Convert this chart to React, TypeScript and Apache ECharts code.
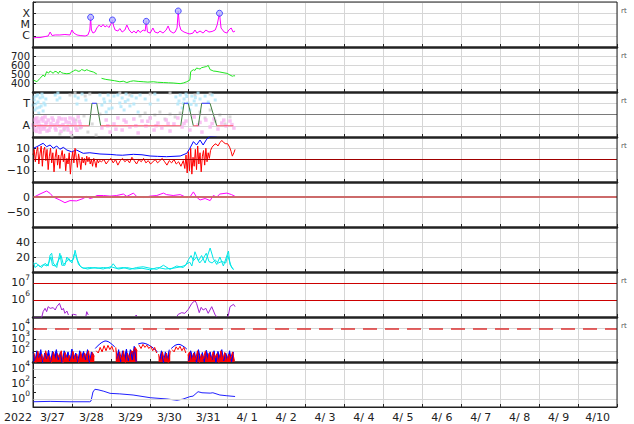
import React, { useEffect, useRef } from 'react';
import * as echarts from 'echarts';

const W = 634;
const H = 424;
const FONT = 'DejaVu Sans';
const GRID_C = '#d6d6d6';
const INK = '#222';

// ---- axis texts ----
const dayLabels = ['3/27', '3/28', '3/29', '3/30', '3/31', '4/ 1', '4/ 2', '4/ 3', '4/ 4', '4/ 5', '4/ 6', '4/ 7', '4/ 8', '4/ 9', '4/10'];
const yearLabel = '2022';
const xrayClasses: [string, number][] = [['C', -6], ['M', -5], ['X', -4]];
const sectorLabels: [string, number][] = [['T', 3], ['A', 1]];
const rtPanels = [0, 1, 2, 3, 6, 7];

// ---- data (time in days from 2022-03-27 00:00) ----
// Panel 1: X-ray flux, log10(W/m2)
const xray: [number, number][] = [
  [0.00, -6.20], [0.08, -6.16], [0.18, -6.16], [0.31, -6.07], [0.39, -6.02], [0.44, -5.67], [0.49, -5.98], [0.57, -5.93],
  [0.69, -5.93], [0.82, -5.89], [0.95, -5.93], [1.00, -5.49], [1.05, -5.76], [1.13, -5.93], [1.21, -5.98], [1.34, -6.02],
  [1.41, -5.93], [1.46, -5.49], [1.48, -4.36], [1.50, -5.49], [1.54, -5.76], [1.59, -5.67], [1.64, -5.31], [1.70, -5.04],
  [1.75, -5.22], [1.80, -5.00], [1.85, -5.22], [1.90, -5.09], [1.95, -5.27], [2.00, -4.96], [2.04, -4.60], [2.07, -5.13],
  [2.11, -5.49], [2.18, -5.58], [2.23, -5.36], [2.29, -5.67], [2.36, -5.49], [2.41, -5.04], [2.47, -5.49], [2.54, -5.76],
  [2.59, -5.58], [2.65, -5.76], [2.70, -5.49], [2.75, -5.71], [2.83, -5.49], [2.88, -5.58], [2.91, -4.72], [2.94, -5.67],
  [3.01, -5.76], [3.08, -5.31], [3.13, -5.67], [3.21, -5.76], [3.26, -5.58], [3.34, -5.76], [3.42, -5.49], [3.47, -5.13],
  [3.52, -5.58], [3.60, -5.76], [3.65, -5.67], [3.70, -5.31], [3.73, -3.80], [3.76, -5.04], [3.80, -5.49], [3.88, -5.67],
  [3.98, -5.80], [4.03, -5.84], [4.11, -5.76], [4.16, -5.49], [4.21, -5.76], [4.29, -5.58], [4.37, -5.76], [4.44, -5.49],
  [4.52, -5.67], [4.60, -5.62], [4.68, -5.49], [4.73, -5.04], [4.79, -4.00], [4.83, -5.31], [4.91, -5.67], [4.98, -5.76],
  [5.03, -5.49], [5.09, -5.31], [5.14, -5.67], [5.19, -5.58],
];
const flares: [number, number][] = [[1.48, -4.36], [2.04, -4.60], [2.91, -4.72], [3.73, -3.80], [4.79, -4.00]];

// Panel 2: solar wind speed, km/s
const speed: [number, number | string][] = [
  [0.01, 433], [0.10, 414], [0.18, 452], [0.26, 489], [0.30, 470], [0.35, 526], [0.40, 510], [0.44, 533], [0.48, 520],
  [0.52, 508], [0.56, 530], [0.61, 525], [0.65, 505], [0.69, 533], [0.73, 515], [0.78, 508], [0.87, 503], [0.95, 508],
  [1.00, 525], [1.04, 533], [1.08, 545], [1.12, 540], [1.16, 530], [1.21, 533], [1.25, 550], [1.29, 543], [1.33, 535],
  [1.38, 548], [1.42, 540], [1.46, 533], [1.55, 522], [1.64, 500], [1.70, '-'], [1.76, 452], [1.87, 440], [1.98, 433],
  [2.10, 425], [2.23, 414], [2.32, 420], [2.41, 405], [2.50, 418], [2.58, 424], [2.70, 418], [2.83, 414], [2.95, 410],
  [3.09, 414], [3.20, 408], [3.35, 405], [3.48, 402], [3.60, 400], [3.70, 396], [3.78, 393], [3.86, 400], [3.95, 414],
  [4.03, 433], [4.05, 526], [4.12, 548], [4.16, 540], [4.20, 566], [4.25, 560], [4.29, 555], [4.33, 570], [4.37, 574],
  [4.42, 580], [4.46, 583], [4.50, 596], [4.55, 548], [4.60, 540], [4.63, 533], [4.70, 530], [4.80, 522], [4.88, 515],
  [4.98, 507], [5.06, 489], [5.12, 475], [5.15, 480], [5.19, 480],
];

// Panel 3: IMF sector (T = toward, A = away)
const sectorT: [number, number][] = [
  [0.00, 2.84], [0.03, 3.29], [0.05, 2.40], [0.08, 3.64], [0.10, 2.58], [0.13, 3.11], [0.15, 2.13], [0.18, 3.47],
  [0.21, 2.76], [0.23, 3.82], [0.26, 2.31], [0.28, 3.02], [0.33, 3.38], [0.57, 3.73], [0.62, 3.29], [0.64, 3.91],
  [0.69, 3.47], [1.08, 3.64], [1.13, 2.93], [1.16, 3.47], [1.26, 3.82], [1.36, 3.29], [1.72, 3.73], [1.77, 2.84],
  [1.82, 3.38], [1.88, 2.22], [1.93, 3.73], [1.98, 3.20], [2.03, 2.58], [2.08, 3.64], [2.18, 3.73], [2.23, 3.02],
  [2.29, 3.47], [2.34, 2.40], [2.39, 3.82], [2.44, 3.29], [2.49, 2.76], [2.54, 3.64], [2.59, 2.93], [2.65, 3.47],
  [2.70, 2.22], [2.75, 3.73], [2.88, 3.38], [3.01, 2.93], [3.13, 3.82], [3.21, 3.29], [3.67, 3.56], [3.72, 2.93],
  [3.78, 3.73], [3.83, 2.58], [3.88, 3.38], [3.93, 3.82], [3.98, 3.02], [4.03, 2.40], [4.08, 3.64], [4.14, 3.20],
  [4.19, 2.84], [4.24, 3.91], [4.29, 3.38], [4.42, 3.64], [4.50, 3.11], [4.60, 3.73], [4.68, 3.29],
  [0.02, 3.55], [0.07, 2.95], [0.12, 3.75], [0.17, 2.65], [0.25, 3.55], [0.31, 2.85], [1.84, 3.10], [1.95, 2.50],
  [2.26, 2.70], [2.37, 3.15], [3.75, 3.20], [3.86, 3.00], [3.95, 3.60], [4.06, 2.90], [4.17, 3.50],
];
const sectorA: [number, number][] = [
  [0.00, 1.07], [0.03, 1.51], [0.05, 0.62], [0.08, 1.24], [0.10, 1.69], [0.13, 0.80], [0.15, 1.33], [0.18, 0.44],
  [0.21, 1.60], [0.23, 0.98], [0.26, 1.42], [0.28, 0.71], [0.31, 1.78], [0.33, 1.16], [0.36, 0.53], [0.39, 1.51],
  [0.44, 0.89], [0.49, 1.69], [0.54, 1.07], [0.59, 0.62], [0.64, 1.42], [0.69, 0.98], [0.74, 1.60], [0.80, 0.80],
  [0.85, 1.33], [0.90, 0.62], [0.95, 1.69], [1.00, 1.07], [1.05, 1.42], [1.10, 0.80], [1.16, 1.78], [1.21, 1.16],
  [1.77, 0.80], [1.88, 1.51], [1.98, 0.44], [2.08, 1.16], [2.18, 1.69], [2.29, 0.62], [2.39, 1.33], [2.49, 0.89],
  [2.59, 1.60], [2.70, 0.36], [2.80, 1.42], [2.90, 0.98], [3.01, 1.69], [3.11, 0.62], [3.21, 1.24], [3.31, 0.80],
  [3.42, 1.51], [3.52, 0.53], [3.62, 1.16], [3.72, 1.69], [3.83, 0.89], [3.93, 1.42], [4.03, 0.62], [4.14, 1.78],
  [4.24, 1.07], [4.34, 0.44], [4.44, 1.51], [4.55, 0.89], [4.65, 1.60], [4.75, 0.71], [4.85, 1.24], [4.96, 0.98],
  [5.06, 1.42], [5.16, 0.80],
  [0.02, 0.90], [0.06, 1.60], [0.09, 0.50], [0.12, 1.40], [0.16, 1.00], [0.20, 0.70], [0.25, 1.70], [0.30, 0.90],
  [0.35, 1.30], [0.41, 0.60], [0.46, 1.20], [0.52, 1.50], [0.57, 0.80], [0.62, 1.20], [0.67, 1.70], [0.72, 0.50],
  [0.77, 1.10], [0.83, 1.60], [0.88, 0.90], [0.93, 1.30], [0.98, 0.40], [1.03, 1.60], [1.08, 1.20], [1.13, 0.60],
  [1.19, 1.40], [1.24, 0.90], [1.92, 1.00], [2.13, 0.70], [2.34, 1.50], [2.64, 1.00], [2.95, 1.40], [3.16, 1.00],
  [3.47, 1.20], [3.88, 1.20], [4.29, 1.30], [4.60, 1.20], [4.90, 1.50], [5.11, 1.10],
];
const sectorU: [number, number][] = [
  [0.69, 0.27], [0.80, 0.62], [0.90, 0.98], [1.00, 0.09], [1.10, 1.51], [1.21, 0.80], [1.31, 1.87], [1.41, 0.44],
  [1.52, 1.16], [1.62, 0.18], [1.72, 2.04], [2.75, 1.87], [2.88, 2.13], [3.01, 1.69], [3.13, 1.96], [3.26, 2.22],
  [3.39, 1.60], [3.52, 2.04], [3.65, 1.78], [3.78, 2.13], [4.29, 2.22], [4.42, 1.69], [4.55, 2.40], [4.68, 1.42],
  [4.80, 1.96], [4.93, 1.16], [5.06, 1.78], [0.95, 3.73], [1.08, 3.91], [1.34, 3.64], [1.46, 3.82], [2.23, 3.91],
  [2.49, 3.73], [3.01, 3.82], [3.52, 3.91], [4.16, 3.73], [4.55, 3.82],
];
const sectorLine: [number, number][] = [
  [0, 1], [1.445, 1], [1.515, 3], [1.636, 3], [1.739, 1], [3.794, 1], [3.879, 3], [3.989, 3], [4.118, 1],
  [4.246, 1], [4.333, 3], [4.547, 3], [4.719, 1], [5.145, 1],
];
const sectorAway = 1;
const sectorToward = 3;

// Panel 4: IMF Bt and Bz, nT
const bt: [number, number][] = [
  [0.01, 10.0], [0.10, 11.4], [0.18, 12.9], [0.26, 14.4], [0.35, 11.4], [0.44, 12.9], [0.52, 10.0], [0.61, 12.0],
  [0.69, 9.1], [0.78, 10.8], [0.87, 8.4], [0.99, 6.9], [1.12, 8.4], [1.29, 5.5], [1.46, 6.0], [1.72, 4.9],
  [2.00, 4.5], [2.15, 4.0], [2.30, 3.8], [2.58, 4.6], [2.80, 4.2], [3.01, 3.1], [3.20, 2.8], [3.43, 2.5],
  [3.78, 3.1], [3.95, 5.5], [4.03, 10.0], [4.12, 15.9], [4.20, 12.9], [4.29, 17.3], [4.37, 12.9], [4.46, 18.0],
  [4.55, 20.5], [4.72, 21.0],
];
const bz: [number, number][] = [
  [0.00, 4], [0.03, 9], [0.06, -2], [0.09, 7], [0.12, 11], [0.15, -4], [0.18, 5], [0.21, 12], [0.24, -6], [0.27, 8],
  [0.30, 11], [0.33, -1], [0.36, 9], [0.39, -9], [0.42, 3], [0.45, 10], [0.48, -3], [0.51, 6], [0.54, -11], [0.57, 2],
  [0.60, 9], [0.63, -5], [0.66, 4], [0.69, -8], [0.72, 3], [0.75, 8], [0.78, -2], [0.81, 5], [0.84, -10], [0.87, 1],
  [0.90, -4], [0.93, 6], [0.96, -13], [0.99, 0], [1.02, 7], [1.05, -3], [1.08, 10], [1.11, 2], [1.14, -7], [1.17, 5],
  [1.20, -1], [1.23, -9], [1.26, 2], [1.29, -3], [1.32, 1], [1.35, -5], [1.38, 3], [1.41, -2], [1.44, 2], [1.47, -4],
  [1.50, 0], [1.53, -6], [1.56, 1], [1.59, -2], [1.62, -7], [1.65, 0], [1.68, -3], [1.71, -1],
  [1.76, -2], [1.82, 0], [1.88, -4], [1.94, -1], [2.00, 1], [2.06, -3], [2.12, 0], [2.18, -5], [2.24, -1], [2.30, 1],
  [2.36, -2], [2.42, 0], [2.48, -3], [2.54, 2], [2.60, -1], [2.66, -4], [2.72, 0], [2.78, -2], [2.84, 1], [2.90, -3],
  [2.96, -1], [3.02, -4], [3.08, -2], [3.14, 0], [3.20, -3], [3.26, -1], [3.32, 1], [3.38, -2], [3.44, -5], [3.50, -1],
  [3.56, -3], [3.62, 0], [3.68, -4], [3.74, -2], [3.80, -6], [3.86, -1],
  [3.90, -8], [3.93, 4], [3.96, -12], [3.99, 7], [4.02, -10], [4.05, 10], [4.08, -13], [4.11, 2], [4.14, -6], [4.17, 9],
  [4.20, -9], [4.23, 12], [4.26, -4], [4.29, 6], [4.32, -11], [4.35, 3], [4.38, 8], [4.41, -5], [4.44, 10], [4.47, -2],
  [4.50, 6], [4.53, 1], [4.56, 8],
  [4.60, 11], [4.65, 13], [4.70, 14], [4.75, 12], [4.80, 15], [4.85, 17], [4.90, 15], [4.95, 14], [5.00, 14],
  [5.05, 11], [5.09, 7], [5.12, 3], [5.16, 6], [5.19, 9],
];

// Panel 5: Dst index, nT
const dst: [number, number][] = [
  [0.01, -1], [0.18, 10], [0.35, 20], [0.44, 12], [0.52, 0], [0.69, -10], [0.82, -19], [0.95, -12], [1.12, -13],
  [1.29, -5], [1.38, 2], [1.46, -5], [1.55, -2], [1.64, 5], [1.81, 5], [1.98, 3], [2.15, 5], [2.32, 10], [2.41, 2],
  [2.58, 13], [2.66, 2], [2.83, -2], [3.01, 3], [3.18, 5], [3.35, 13], [3.43, 8], [3.60, 5], [3.78, 8], [3.95, -2],
  [4.03, 0], [4.12, 17], [4.20, 0], [4.29, -10], [4.42, -5], [4.55, -12], [4.63, 5], [4.72, 0], [4.80, 10],
  [4.98, 13], [5.10, 8], [5.19, 2],
];

// Panel 6: activity index (two traces)
const activity: [number, number][] = [
  [0.01, 13], [0.05, 6], [0.14, 9.3], [0.22, 6], [0.31, 11.6], [0.39, 8], [0.44, 22.7], [0.48, 25], [0.52, 12],
  [0.61, 6], [0.69, 25], [0.74, 9], [0.82, 9], [0.87, 20], [0.95, 14], [1.04, 17], [1.08, 29], [1.14, 16], [1.21, 8],
  [1.29, 5], [1.46, 6], [1.64, 5], [1.81, 6], [1.98, 5], [2.06, 11], [2.15, 5], [2.32, 6], [2.49, 3.5], [2.66, 6],
  [2.83, 7], [3.01, 5], [3.18, 3.5], [3.35, 9], [3.52, 3.5], [3.69, 8], [3.86, 6], [3.95, 11], [4.03, 13], [4.08, 8],
  [4.16, 27], [4.25, 15], [4.33, 22], [4.42, 12], [4.55, 32], [4.63, 18], [4.72, 10], [4.80, 20], [4.89, 8],
  [5.02, 28], [5.06, 10], [5.15, 3.5],
];
const activityB: [number, number][] = [
  [0.01, 10], [0.08, 12], [0.18, 7], [0.27, 10], [0.36, 8], [0.42, 14], [0.46, 20], [0.50, 9], [0.58, 8], [0.66, 16],
  [0.72, 22], [0.78, 10], [0.85, 13], [0.92, 18], [1.00, 12], [1.06, 24], [1.10, 22], [1.17, 10], [1.25, 6],
  [1.40, 4], [1.60, 6], [1.80, 4], [2.00, 7], [2.20, 4], [2.40, 6], [2.60, 4], [2.80, 5], [3.00, 3], [3.20, 6],
  [3.40, 4], [3.60, 5], [3.80, 7], [3.92, 9], [4.00, 17], [4.06, 22], [4.12, 15], [4.20, 20], [4.28, 12], [4.36, 17],
  [4.45, 25], [4.52, 14], [4.60, 12], [4.68, 16], [4.76, 12], [4.85, 14], [4.95, 12], [5.00, 22], [5.10, 6], [5.15, 3],
];

// Panel 7: electron flux, log10
const electron: [number, number | string][] = [
  [0.01, 4.95], [0.22, 4.95], [0.26, 5.32], [0.31, 5.52], [0.35, 5.32], [0.39, 5.62], [0.44, 5.52], [0.52, 5.56],
  [0.57, 5.42], [0.61, 5.62], [0.68, 5.82], [0.74, 5.42], [0.78, 5.52], [0.82, 5.22], [0.87, 5.36], [0.91, 5.12],
  [0.95, '-'], [0.99, 5.12], [1.04, 5.16], [1.12, 5.12], [1.15, '-'], [1.36, 5.05], [1.38, 5.32], [1.42, 5.12],
  [1.45, '-'], [2.63, 5.05], [2.65, 5.12], [2.67, 5.05], [2.70, '-'], [3.70, 5.05], [3.73, 5.16], [3.82, 5.26],
  [3.90, 5.22], [3.99, 5.46], [4.08, 5.82], [4.16, 5.98], [4.20, 5.82], [4.27, 5.26], [4.32, 5.58], [4.37, 5.42],
  [4.44, 5.52], [4.50, 5.22], [4.59, 5.62], [4.68, 5.12], [4.72, 5.02], [4.75, '-'], [5.00, 5.02], [5.02, 5.12],
  [5.06, 5.62], [5.15, 5.76], [5.19, 5.62],
];
const electronLevels = [6, 7];

// Panel 8: proton flux, log10, sampled every 0.05 day
const protonStep = 0.05;
const protonBlue = [
  1.9, 1.1, 2.0, 1.4, 2.1, 0.9, 1.8, 1.3, 2.05, 1.0, 1.95, 1.5, 2.1, 1.2, 1.85, 0.9, 2.0, 1.4, 1.9, 1.1, 2.15, 1.3, 1.8, 1.0,
  2.0, 1.5, 1.95, 1.2, 2.1, 0.9, 1.9, 1.6,
  2.2, 2.4, 2.55, 2.7, 2.8, 2.87, 2.85, 2.78, 2.65, 2.5, 2.35,
  1.3, 2.1, 1.0, 2.0, 1.4, 2.15, 1.1,
  2.1, 1.2, 2.4, 1.0, 2.6, 2.65, 2.69, 2.67, 2.62, 2.55, 2.45, 2.35, 2.2, 2.05, 1.9,
  1.2, 2.0, 0.9, 1.9, 1.3, 2.1,
  2.2, 2.35, 2.48, 2.55, 2.57, 2.52, 2.42, 2.3, 2.15,
  1.1, 2.0, 1.4, 1.9, 0.9, 2.1, 1.3, 1.85, 1.0, 2.05, 1.5, 1.9, 1.2, 2.0, 0.9, 1.95, 1.4, 2.1, 1.1, 1.8, 1.3, 2.0, 1.0, 1.9,
];
const protonRed = [
  1.8, 0.9, 1.95, 1.2, 1.7, 1.0, 2.0, 1.3, 1.6, 0.9, 1.9, 1.1, 1.75, 1.4, 2.0, 0.9, 1.85, 1.2, 1.6, 1.0, 1.95, 1.3, 1.7, 0.9,
  1.9, 1.1, 1.8, 1.4, 2.0, 1.0, 1.85, 1.5,
  2.0, 1.8, 2.3, 1.9, 2.45, 2.0, 2.48, 2.1, 2.4, 1.9, 2.3,
  1.0, 1.9, 1.2, 2.0, 0.9, 1.8, 1.3,
  2.0, 1.9, 2.3, 2.0, 2.5, 2.2, 2.57, 2.3, 2.5, 2.2, 2.4, 2.0, 2.3, 1.8, 1.7,
  1.0, 1.9, 1.1, 1.8, 0.9, 2.0,
  2.1, 1.9, 2.35, 2.1, 2.4, 2.0, 2.3, 1.8, 1.6,
  1.9, 1.0, 1.8, 1.2, 2.0, 0.9, 1.7, 1.3, 1.95, 1.0, 1.8, 1.1, 1.9, 1.4, 1.75, 0.9, 2.0, 1.2, 1.85, 1.0, 1.7, 1.3, 1.9, 1.1,
];
// time windows (days) where the flux is smooth (no background noise)
const protonSmooth: [number, number][] = [[1.58, 2.12], [2.68, 3.22], [3.53, 3.97]];
const protonAlert = 4;

// Panel 9: log10 index
const flux9: [number, number][] = [
  [0.00, -0.30], [0.44, -0.25], [0.95, -0.30], [1.46, -0.30], [1.49, -0.20], [1.54, 1.00], [1.59, 1.36], [1.67, 1.30],
  [1.82, 1.10], [1.98, 0.82], [2.23, 0.75], [2.57, 0.60], [3.01, 0.24], [3.44, 0.07], [3.70, -0.10], [3.85, 0.05],
  [4.03, 0.38], [4.11, 0.45], [4.24, 1.04], [4.34, 0.90], [4.55, 0.85], [4.62, 0.90], [4.80, 0.60], [4.98, 0.50],
  [5.19, 0.40],
];
const flux9Grid = [0, 2, 4];

// ---- layout ----
const LEFT = 33;
const PLOT_W = 584;
const TOP = 2;
const PANEL_H = 45;
const N = 9;

const isInt = (v: number) => Math.abs(v - Math.round(v)) < 1e-6;
const pow10 = (v: number) => `{b|10}{s|${Math.round(v)}}`;
const powRich = {
  b: { fontSize: 11, color: INK, fontFamily: FONT, verticalAlign: 'bottom', lineHeight: 9 },
  s: { fontSize: 7.5, color: INK, fontFamily: FONT, verticalAlign: 'bottom', lineHeight: 4, padding: [0, 0, 7, 0] },
};

function yAxisFor(i: number, min: number, max: number, interval: number, formatter: (v: number) => string, split = true, rich = false, fontSize = 11, lineHeight = 11) {
  return {
    type: 'value', gridIndex: i, min, max, interval,
    axisLine: { show: true, onZero: false, lineStyle: { color: INK, width: 1 } },
    axisTick: { show: true, inside: true, length: 3, lineStyle: { color: INK } },
    splitLine: { show: split, lineStyle: { color: GRID_C, width: 1 } },
    axisLabel: { fontSize, lineHeight, color: INK, margin: 3, fontFamily: FONT, formatter, ...(rich ? { rich: powRich } : {}) },
  };
}

function hline(values: number[], color: string, width: number, type: any = 'solid') {
  return {
    silent: true, symbol: ['none', 'none'], label: { show: false },
    lineStyle: { color, width, type },
    emphasis: { disabled: true },
    data: values.map((v) => ({ yAxis: v })),
  };
}

// split the sector line into its away / toward / transition pieces
function sectorPieces(kind: 'away' | 'toward' | 'turn') {
  const out: any[] = [];
  for (let k = 0; k < sectorLine.length - 1; k++) {
    const a = sectorLine[k];
    const b = sectorLine[k + 1];
    const kk = a[1] === sectorAway && b[1] === sectorAway ? 'away' : a[1] === sectorToward && b[1] === sectorToward ? 'toward' : 'turn';
    if (kk === kind) out.push(a, b, [b[0], '-']);
  }
  return out;
}

function protonSeries(values: number[], offset: number, smooth: boolean) {
  return values.map((v, k) => {
    const t = offset + k * protonStep;
    const inSmooth = protonSmooth.some(([a, b]) => t >= a && t <= b);
    return [t, inSmooth === smooth ? v : '-'];
  });
}

function buildOption() {
  const grids = Array.from({ length: N }, (_, i) => ({ left: LEFT, width: PLOT_W, top: TOP + PANEL_H * i, height: PANEL_H }));
  const xAxes: any[] = grids.map((_, i) => ({
    type: 'value', gridIndex: i, min: 0, max: 15, interval: 1,
    axisLabel: { show: false },
    axisTick: { show: true, inside: true, length: 3, lineStyle: { color: INK } },
    axisLine: { show: true, onZero: false, lineStyle: { color: INK, width: i < N - 1 ? 2.5 : 1 } },
    splitLine: { show: true, lineStyle: { color: GRID_C, width: 1 } },
  }));
  xAxes.push({
    type: 'category', gridIndex: N - 1, data: dayLabels, boundaryGap: true, position: 'bottom',
    axisLine: { show: false }, axisTick: { show: false }, splitLine: { show: false },
    axisLabel: { fontSize: 11, color: INK, margin: 5, fontFamily: FONT, interval: 0 },
  });

  const yAxes = [
    yAxisFor(0, -7, -3, 1, (v) => { const f = xrayClasses.find((c) => c[1] === v); return f ? f[0] : ''; }),
    yAxisFor(1, 300, 800, 100, (v) => (v >= 400 && v <= 700 ? String(v) : ''), true, false, 10, 8),
    yAxisFor(2, 0, 4, 1, (v) => { const f = sectorLabels.find((c) => c[1] === v); return f ? f[0] : ''; }),
    yAxisFor(3, -20, 20, 10, (v) => (Math.abs(v) <= 10 ? (v < 0 ? '\u2212' + Math.abs(v) : String(v)) : '')),
    yAxisFor(4, -100, 50, 50, (v) => (v === 0 ? '0' : v === -50 ? '\u221250' : '')),
    yAxisFor(5, 0, 60, 20, (v) => (v === 20 || v === 40 ? String(v) : '')),
    yAxisFor(6, 5, 7.7, 1, (v) => (isInt(v) && v >= 6 && v <= 7 ? pow10(v) : ''), true, true),
    yAxisFor(7, 1, 5, 1, (v) => (isInt(v) && v >= 2 && v <= 4 ? pow10(v) : ''), true, true),
    yAxisFor(8, -1, 5, 1, (v) => (isInt(v) && flux9Grid.includes(Math.round(v)) ? pow10(v) : ''), false, true),
  ];

  const line = (i: number, data: any[], color: string, extra: any = {}) => ({
    type: 'line', xAxisIndex: i, yAxisIndex: i, data, showSymbol: false, symbol: 'none',
    lineStyle: { color, width: 1 }, itemStyle: { color }, connectNulls: false, clip: true, ...extra,
  });
  const dots = (i: number, data: any[], color: string, size = 3) => ({
    type: 'scatter', xAxisIndex: i, yAxisIndex: i, data, symbol: 'rect', symbolSize: size,
    itemStyle: { color }, silent: true,
  });
  const area = (color: string) => ({ areaStyle: { color, opacity: 1, origin: 'start' } });

  const series: any[] = [
    line(0, xray, '#ff00ff'),
    {
      type: 'scatter', xAxisIndex: 0, yAxisIndex: 0, data: flares, symbol: 'circle', symbolSize: 6,
      itemStyle: { color: '#b4b4ff', borderColor: '#2a2aff', borderWidth: 1 }, z: 5,
    },
    line(1, speed, '#1ee61e'),
    dots(2, sectorU, '#cfcfcf'),
    dots(2, sectorA, '#f7b4f0', 3.5),
    dots(2, sectorT, '#aee6fa'),
    line(2, sectorPieces('turn'), '#3c7c3c', { markLine: hline([2], '#7a7a7a', 1), z: 4 }),
    line(2, sectorPieces('away'), '#ff5468', { z: 4 }),
    line(2, sectorPieces('toward'), '#3030ff', { z: 4 }),
    line(3, bt, '#0000ff'),
    line(3, bz, '#ff0000', { markLine: hline([0], '#a00000', 1) }),
    line(4, dst, '#ff00ff', { markLine: hline([0], '#cc6a6a', 2) }),
    line(5, activityB, '#00e6e6'),
    line(5, activity, '#00e6e6'),
    line(6, electron, '#a020d0', { markLine: hline(electronLevels, '#cc0000', 1) }),
    line(7, protonSeries(protonBlue, 0, false), '#0000ff', area('#0000ff')),
    line(7, protonSeries(protonBlue, 0, true), '#0000ff'),
    line(7, protonSeries(protonRed, protonStep / 2, false), '#ff0000', area('#ff0000')),
    line(7, protonSeries(protonRed, protonStep / 2, true), '#ff0000', { markLine: hline([protonAlert], '#dd3333', 1.5, [14, 8]) }),
    line(8, flux9, '#2020ff', { markLine: hline(flux9Grid, GRID_C, 1), z: 3 }),
  ];

  const graphic: any[] = [
    {
      type: 'rect', silent: true, z: 100,
      shape: { x: LEFT, y: TOP, width: PLOT_W, height: PANEL_H * N },
      style: { fill: 'none', stroke: INK, lineWidth: 1 },
    },
    {
      type: 'text', silent: true, z: 100, x: 18, y: TOP + PANEL_H * N + 10,
      style: { text: yearLabel, fontSize: 11, fontFamily: FONT, fill: INK, align: 'center', verticalAlign: 'middle' },
    },
    ...rtPanels.map((p) => ({
      type: 'text', silent: true, z: 100, x: LEFT + PLOT_W + 4, y: TOP + PANEL_H * p + 9,
      style: { text: 'rt', fontSize: 7, fontFamily: FONT, fill: '#555', align: 'left', verticalAlign: 'middle' },
    })),
  ];

  return {
    animation: false,
    backgroundColor: '#ffffff',
    textStyle: { fontFamily: FONT },
    grid: grids,
    xAxis: xAxes,
    yAxis: yAxes,
    series,
    graphic,
  };
}

export default function App() {
  const ref = useRef<HTMLDivElement>(null);
  useEffect(() => {
    if (!ref.current) return;
    const chart = echarts.init(ref.current, null, { renderer: 'svg', width: W, height: H });
    chart.setOption(buildOption() as any);
    return () => chart.dispose();
  }, []);
  return <div ref={ref} style={{ position: 'fixed', left: 0, top: 0, width: W, height: H, background: '#fff' }} />;
}
